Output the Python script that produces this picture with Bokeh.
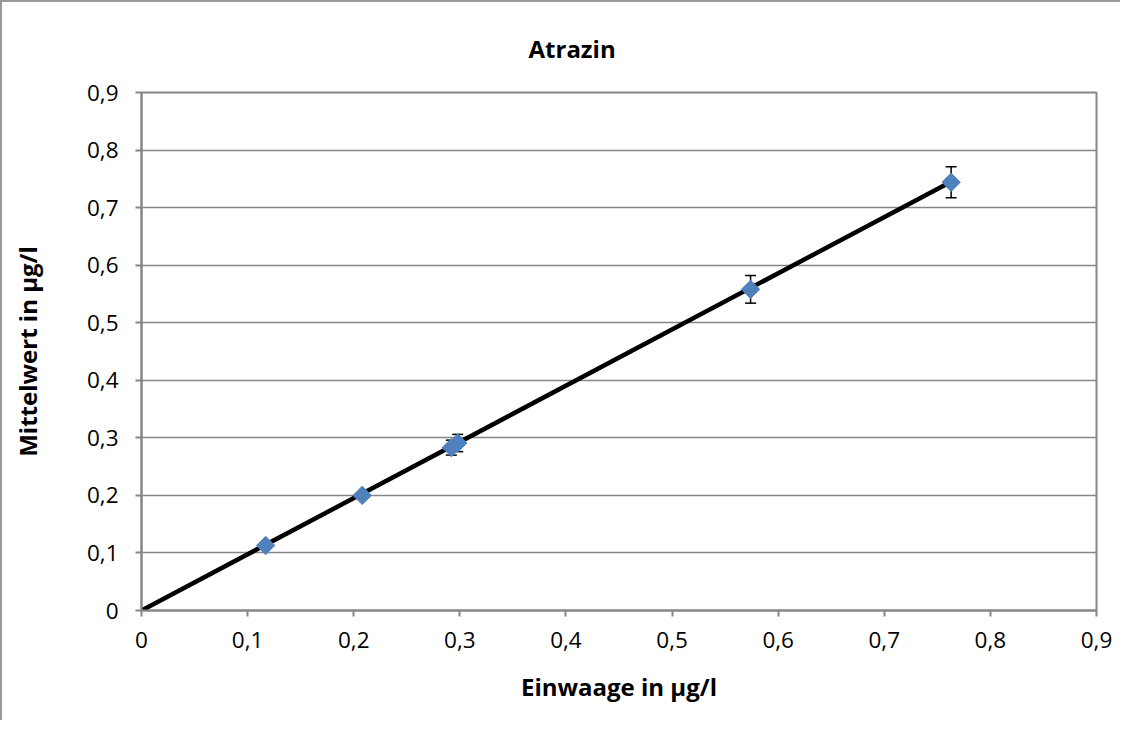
from bokeh.plotting import figure
from bokeh.models import Range1d, FixedTicker, CustomJSTickFormatter, Whisker, TeeHead, ColumnDataSource
from bokeh.embed import file_html
from bokeh.resources import INLINE
import math

# data
einwaage = [0.117, 0.208, 0.292, 0.298, 0.574, 0.763]
mittelwert = [0.113, 0.200, 0.283, 0.291, 0.558, 0.744]
fehler = [0.004, 0.004, 0.013, 0.015, 0.024, 0.027]
trend_x = [0.0, 0.763]
trend_y = [0.0, 0.745]
ticks = [0.0, 0.1, 0.2, 0.3, 0.4, 0.5, 0.6, 0.7, 0.8, 0.9]

FONT = "Open Sans"
GRAY = "#868686"

p = figure(width=1120, height=720, output_backend="svg", toolbar_location=None,
           x_range=Range1d(0, 0.9), y_range=Range1d(0, 0.9),
           min_border_left=139, min_border_top=89, min_border_right=26, min_border_bottom=112)

p.title.text = "Atrazin"
p.title.align = "left"
p.title.offset = 387
p.title.standoff = 55
p.title.text_font = FONT
p.title.text_font_size = "24px"
p.title.text_font_style = "bold"
p.title.text_color = "black"

fmt = CustomJSTickFormatter(code="return tick == 0 ? '0' : tick.toFixed(1).replace('.', ',');")
for ax in (p.xaxis[0], p.yaxis[0]):
    ax.ticker = FixedTicker(ticks=ticks)
    ax.formatter = fmt
    ax.axis_line_color = GRAY
    ax.axis_line_width = 2
    ax.major_tick_line_color = GRAY
    ax.major_tick_line_width = 2
    ax.major_tick_out = 6
    ax.major_tick_in = 0
    ax.minor_tick_line_color = None
    ax.major_label_text_font = FONT
    ax.major_label_text_font_size = "22.5px"
    ax.major_label_text_color = "black"
    ax.axis_label_text_font = FONT
    ax.axis_label_text_font_size = "24px"
    ax.axis_label_text_font_style = "bold"
    ax.axis_label_text_color = "black"

p.xaxis.axis_label = "Einwaage in µg/l"
p.yaxis.axis_label = "Mittelwert in µg/l"
p.xaxis.major_label_standoff = 15
p.yaxis.major_label_standoff = 17
p.xaxis.axis_label_standoff = 19
p.yaxis.axis_label_standoff = 40

p.xgrid.grid_line_color = None
p.ygrid.grid_line_color = GRAY
p.ygrid.grid_line_width = 1.5
p.ygrid.ticker = FixedTicker(ticks=ticks)
p.outline_line_color = GRAY
p.outline_line_width = 2

p.line(trend_x, trend_y, line_color="black", line_width=4.5)

src = ColumnDataSource(dict(x=einwaage, y=mittelwert,
                            lo=[m - e for m, e in zip(mittelwert, fehler)],
                            hi=[m + e for m, e in zip(mittelwert, fehler)]))
w = Whisker(source=src, base="x", lower="lo", upper="hi", line_color="black", line_width=1.5,
            upper_head=TeeHead(size=11, line_color="black", line_width=1.5),
            lower_head=TeeHead(size=11, line_color="black", line_width=1.5))
p.add_layout(w)

p.scatter("x", "y", source=src, marker="square", angle=math.pi / 4, size=13,
          fill_color="#4F81BD", line_color="#4F81BD")

p.styles = {"border-top": "2px solid #999", "border-left": "2px solid #999"}

open("out.html", "w").write(file_html(p, INLINE))
